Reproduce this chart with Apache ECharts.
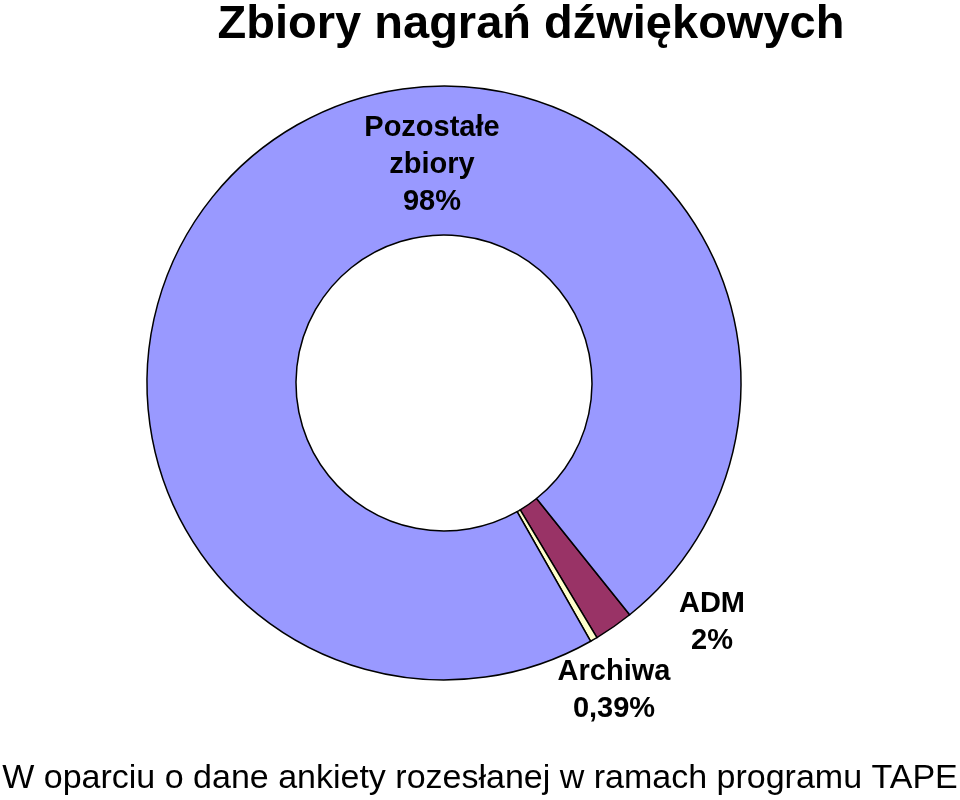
<!DOCTYPE html>
<html>
<head>
<meta charset="utf-8">
<script src="https://cdn.jsdelivr.net/npm/echarts@6/dist/echarts.min.js"></script>
<style>
html, body { margin: 0; padding: 0; background: #fff; }
#main { width: 960px; height: 800px; }
</style>
</head>
<body>
<div id="main"></div>
<script>
// dane wykresu
var kategorie = ['ADM', 'Archiwa', 'Pozostałe zbiory'];
var wartosci = [2.14, 0.39, 97.47];
var etykiety = ['ADM\n2%', 'Archiwa\n0,39%', 'Pozostałe\nzbiory\n98%'];
var kolory = ['#993366', '#FFFFCC', '#9999FF'];

var myChart = echarts.init(document.getElementById('main'));

var dane = [];
for (var i = 0; i < kategorie.length; i++) {
    dane.push({name: kategorie[i], value: wartosci[i], itemStyle: {color: kolory[i]}});
}

function etykieta(tekst, x, y) {
    return {
        type: 'text', x: x, y: y, z: 100,
        style: {
            text: tekst,
            fontFamily: 'Liberation Sans, Arial, sans-serif',
            fontWeight: 'bold',
            fontSize: 29,
            lineHeight: 37,
            fill: '#000',
            align: 'center',
            verticalAlign: 'middle'
        }
    };
}

myChart.setOption({
    backgroundColor: '#fff',
    animation: false,
    title: {
        text: 'Zbiory nagrań dźwiękowych',
        left: 526,
        top: -3,
        textAlign: 'center',
        textStyle: {
            fontFamily: 'Liberation Sans, Arial, sans-serif',
            fontWeight: 'bold',
            fontSize: 47,
            color: '#000'
        }
    },
    graphic: [
        {type: 'text', left: 'center', top: 762, z: 100, style: {
            text: 'W oparciu o dane ankiety rozesłanej w ramach programu TAPE',
            fontFamily: 'Liberation Sans, Arial, sans-serif',
            fontSize: 34,
            fill: '#000'
        }},
        etykieta(etykiety[2], 432, 165),
        etykieta(etykiety[0], 712, 622),
        etykieta(etykiety[1], 614, 690)
    ],
    series: [
        {
            type: 'pie',
            center: [444, 383],
            radius: [148, 297],
            startAngle: -51.3,
            clockwise: true,
            label: {show: false},
            labelLine: {show: false},
            itemStyle: {borderColor: '#000', borderWidth: 1.5},
            emphasis: {disabled: true},
            data: dane
        }
    ]
});
</script>
</body>
</html>
